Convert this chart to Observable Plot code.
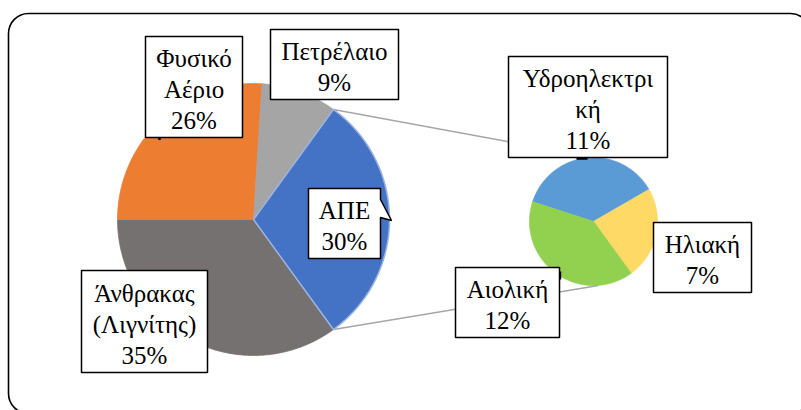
<!DOCTYPE html>
<html><head><meta charset="utf-8">
<script src="https://cdn.jsdelivr.net/npm/d3@7"></script>
<script src="https://cdn.jsdelivr.net/npm/@observablehq/plot@0.6"></script>
<style>
html,body{margin:0;padding:0;background:#fff;overflow:hidden;}
</style></head><body><div id="chart"></div>
<script>
// ---------- DATA ----------
const mainCategories = ["ΑΠΕ", "Άνθρακας (Λιγνίτης)", "Φυσικό Αέριο", "Πετρέλαιο"];
const mainValues = [30, 35, 26, 9];
const mainLabelLines = ["ΑΠΕ", "Άνθρακας\n(Λιγνίτης)", "Φυσικό\nΑέριο", "Πετρέλαιο"];
const mainColors = ["#4472C4", "#767171", "#ED7D31", "#A5A5A5"];

const subCategories = ["Υδροηλεκτρική", "Ηλιακή", "Αιολική"];
const subValues = [11, 7, 12];
const subLabelLines = ["Υδροηλεκτρι\nκή", "Ηλιακή", "Αιολική"];
const subColors = ["#5B9BD5", "#FFD966", "#92D050"];

// ---------- LAYOUT (pixels) ----------
const W = 801, H = 410;
const mainPie = {cx: 253, cy: 219, r: 136};
const subPie = {cx: 593, cy: 221, r: 64, start: -72 * Math.PI / 180};
const labelBoxes = {
  "ΑΠΕ": [308, 188, 380, 258],
  "Άνθρακας (Λιγνίτης)": [81, 270, 207, 372],
  "Φυσικό Αέριο": [145, 36, 242, 137],
  "Πετρέλαιο": [270, 29, 398, 99],
  "Υδροηλεκτρική": [508, 56, 667, 157],
  "Ηλιακή": [653, 222, 751, 292],
  "Αιολική": [455, 267, 559, 337]
};
const calloutPointer = {"ΑΠΕ": [[380, 199], [391, 220], [380, 217]]};
// short leader-line stubs peeking out of some label boxes
const leaderStubs = [
  {x1: 159, y1: 137, x2: 159, y2: 139.5},
  {x1: 576, y1: 158, x2: 587, y2: 158},
  {x1: 559.5, y1: 271, x2: 559.5, y2: 279}
];
const fontSize = 25, lineGap = 31;

// ---------- BUILD ----------
const total = d3.sum(mainValues);
const otherIndex = 0; // ΑΠΕ split into the secondary pie
const mainStart = Math.PI / 2 - Math.PI * mainValues[otherIndex] / total;
const mainArcs = d3.pie().sort(null).startAngle(mainStart).endAngle(mainStart + 2 * Math.PI)(mainValues);
const subArcs = d3.pie().sort(null).startAngle(subPie.start).endAngle(subPie.start + 2 * Math.PI)(subValues);

function slicePolys(p, arcs, names) {
  const pts = [];
  arcs.forEach((a, i) => {
    const name = names[i];
    const n = Math.max(2, Math.ceil((a.endAngle - a.startAngle) / (Math.PI / 360)));
    pts.push({name, x: p.cx, y: p.cy});
    for (let k = 0; k <= n; k++) {
      const t = a.startAngle + (a.endAngle - a.startAngle) * k / n;
      pts.push({name, x: p.cx + p.r * Math.sin(t), y: p.cy - p.r * Math.cos(t)});
    }
    pts.push({name, x: p.cx, y: p.cy});
  });
  return pts;
}
const mainPts = slicePolys(mainPie, mainArcs, mainCategories);
const subPts = slicePolys(subPie, subArcs, subCategories);
const otherPts = mainPts.filter(d => d.name === mainCategories[otherIndex]);
const restPts = mainPts.filter(d => d.name !== mainCategories[otherIndex]);

const oa = mainArcs[otherIndex];
const connectors = [
  {x1: mainPie.cx + mainPie.r * Math.sin(oa.startAngle), y1: mainPie.cy - mainPie.r * Math.cos(oa.startAngle), x2: subPie.cx, y2: subPie.cy - subPie.r},
  {x1: mainPie.cx + mainPie.r * Math.sin(oa.endAngle), y1: mainPie.cy - mainPie.r * Math.cos(oa.endAngle), x2: subPie.cx + 5, y2: subPie.cy + subPie.r}
];

const fmt = v => Math.round(v / total * 100) + "%";
const labels = [
  ...mainCategories.map((c, i) => ({name: c, text: mainLabelLines[i] + "\n" + fmt(mainValues[i])})),
  ...subCategories.map((c, i) => ({name: c, text: subLabelLines[i] + "\n" + fmt(subValues[i])}))
].map(d => {
  const [x1, y1, x2, y2] = labelBoxes[d.name];
  return {...d, x1, y1, x2, y2, cx: (x1 + x2) / 2, cy: (y1 + y2) / 2};
});
const boxPts = [];
labels.forEach(d => {
  const ptr = calloutPointer[d.name] || [];
  const poly = [[d.x1, d.y1], [d.x2, d.y1], ...ptr, [d.x2, d.y2], [d.x1, d.y2], [d.x1, d.y1], [d.x2, d.y1]];
  poly.forEach(([x, y]) => boxPts.push({name: d.name, x, y}));
});

const chart = Plot.plot({
  width: W, height: H,
  marginLeft: 8, marginTop: 13, marginRight: 0, marginBottom: 0,
  x: {domain: [8, W], range: [8, W], axis: null},
  y: {domain: [13, H], range: [13, H], axis: null},
  color: {domain: [...mainCategories, ...subCategories], range: [...mainColors, ...subColors]},
  style: {background: "white"},
  marks: [
    Plot.link(connectors, {x1: "x1", y1: "y1", x2: "x2", y2: "y2", stroke: "#A5A5A5", strokeWidth: 1.4}),
    Plot.line(restPts, {x: "x", y: "y", z: "name", fill: "name", stroke: "name", strokeWidth: 0.8, curve: "linear"}),
    Plot.line(otherPts, {x: "x", y: "y", z: "name", fill: "name", stroke: "#9DB4E0", strokeWidth: 1.5, curve: "linear"}),
    Plot.line(subPts, {x: "x", y: "y", z: "name", fill: "name", stroke: "name", strokeWidth: 0.8, curve: "linear"}),
    Plot.link(leaderStubs, {x1: "x1", y1: "y1", x2: "x2", y2: "y2", stroke: "black", strokeWidth: 2.5}),
    Plot.line(boxPts, {x: "x", y: "y", z: "name", fill: "white", stroke: "black", strokeWidth: 1.5, strokeLinejoin: "miter", curve: "linear"}),
    Plot.text(labels, {x: "cx", y: "cy", text: "text", dy: 1.5, fontSize, fontFamily: "Liberation Serif", lineHeight: lineGap / fontSize, fill: "black"}),
    Plot.frame({rx: 20, stroke: "black", strokeWidth: 1.6, insetRight: -9, insetBottom: -3})
  ]
});
document.getElementById("chart").appendChild(chart);
</script></body></html>
